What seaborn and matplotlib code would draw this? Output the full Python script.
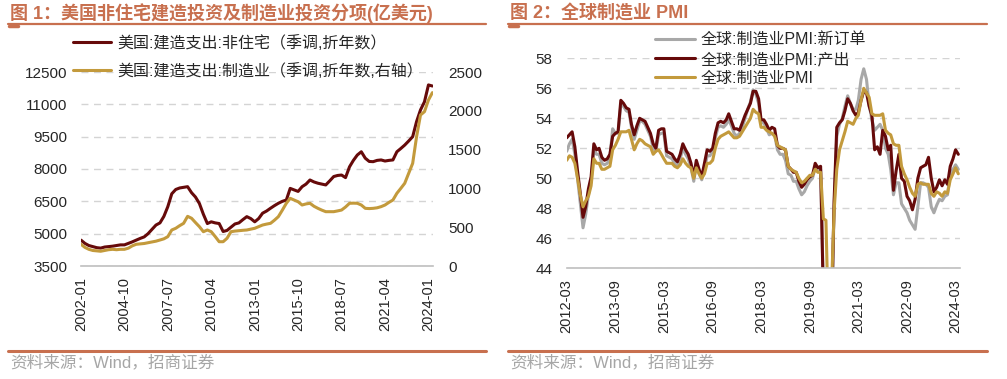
import numpy as np
import pandas as pd
import matplotlib
matplotlib.use('Agg')
import matplotlib.pyplot as plt
from matplotlib.lines import Line2D
import seaborn as sns

# 图1: 美国建造支出 (季度读数, 2002-01 ~ 2024-04)
us_dates = pd.date_range('2002-01-01', periods=90, freq='QS')
nonres = [4700, 4550, 4450, 4400,
          4350, 4330, 4380, 4400,
          4420, 4450, 4480, 4480,
          4550, 4620, 4700, 4780,
          4850, 5000, 5200, 5400,
          5500, 5800, 6250, 6850,
          7050, 7120, 7150, 7180,
          6900, 6700, 6400, 5900,
          5470, 5550, 5500, 5470,
          5100, 5150, 5300, 5450,
          5500, 5650, 5790, 5700,
          5550, 5700, 5950, 6050,
          6180, 6300, 6410, 6500,
          6560, 7100, 7030, 6960,
          7180, 7300, 7490, 7400,
          7340, 7300, 7260, 7450,
          7650, 7700, 7720, 7600,
          8100, 8400, 8650, 8800,
          8500, 8350, 8340, 8400,
          8420, 8370, 8400, 8420,
          8800, 8950, 9110, 9300,
          9500, 10200, 10740, 11120,
          11900, 11850]
manuf = [280, 240, 215, 200,
         195, 190, 200, 210,
         215, 210, 215, 215,
         230, 260, 280, 285,
         290, 300, 310, 320,
         335, 350, 378, 464,
         486, 520, 550, 640,
         615, 560, 507, 442,
         464, 442, 380, 313,
         313, 357, 442, 450,
         455, 460, 464, 475,
         486, 507, 528, 540,
         550, 590, 636, 720,
         808, 872, 850, 828,
         786, 800, 808, 770,
         743, 720, 700, 700,
         700, 710, 721, 760,
         808, 810, 808, 786,
         743, 740, 743, 750,
         765, 786, 820, 850,
         937, 1000, 1066, 1195,
         1323, 1666, 1946, 1989,
         2139, 2234]

# 图2: 全球制造业PMI (月度, 2012-03 ~ 2024-04)
pmi_dates = pd.date_range('2012-03-01', periods=146, freq='MS')
pmi_new_orders = [51.8, 52.3, 52.6, 51.6, 50.0, 48.3, 46.7, 47.6, 48.9, 49.8,
                  51.9, 51.6, 51.6, 51.0, 50.9, 51.0, 51.4, 53.3, 53.0, 53.0,
                  54.9, 54.8, 54.5, 54.4, 53.4, 52.6, 53.2, 53.8, 53.8, 53.6,
                  53.2, 52.8, 52.0, 51.8, 52.9, 53.0, 53.0, 51.5, 51.4, 51.3,
                  51.0, 50.8, 51.3, 52.0, 51.6, 51.3, 50.7, 49.8, 50.9, 50.3,
                  49.9, 50.6, 51.5, 51.5, 51.8, 52.7, 53.4, 53.5, 53.4, 53.6,
                  53.9, 53.5, 53.0, 52.8, 53.0, 53.4, 54.0, 54.6, 55.1, 55.9,
                  55.6, 55.0, 53.7, 53.7, 53.3, 52.9, 53.0, 52.9, 51.9, 51.6,
                  51.6, 51.2, 50.3, 50.2, 49.8, 49.8, 49.3, 48.9, 49.1, 49.5,
                  49.8, 50.0, 50.7, 50.5, 50.6, 42.5, 43.5, 33.5, 39.5, 48.0,
                  52.8, 53.6, 54.0, 54.8, 55.5, 55.0, 54.6, 54.6, 55.2, 56.6,
                  57.3, 56.6, 54.9, 53.9, 53.2, 53.4, 53.6, 53.2, 52.0, 51.6,
                  50.6, 48.9, 49.7, 49.7, 48.3, 48.0, 47.7, 47.2, 46.9, 46.6,
                  48.1, 49.7, 49.7, 49.6, 49.4, 48.1, 47.7, 48.2, 48.6, 48.5,
                  48.8, 48.9, 50.3, 50.6, 50.9, 50.6]
pmi_output = [52.7, 52.9, 53.1, 52.1, 50.5, 49.0, 47.4, 48.1, 49.3, 50.1,
              52.3, 51.9, 52.0, 51.4, 51.2, 51.3, 51.6, 52.8, 53.0, 53.1,
              55.2, 55.0, 54.7, 54.6, 53.6, 52.9, 53.5, 54.0, 53.9, 53.8,
              53.4, 53.0, 52.3, 52.0, 53.2, 53.3, 53.3, 51.8, 51.7, 51.6,
              51.3, 51.1, 51.6, 52.3, 51.9, 51.6, 51.0, 50.1, 51.2, 50.6,
              50.1, 51.0, 51.9, 51.8, 52.0, 53.0, 53.7, 53.8, 53.7, 53.9,
              54.3, 53.8, 53.3, 53.3, 53.2, 53.7, 54.2, 54.6, 55.0, 55.8,
              55.8, 55.3, 53.9, 53.9, 53.6, 53.2, 53.4, 53.3, 52.2, 52.0,
              52.0, 51.9, 50.8, 50.6, 50.4, 50.4, 49.8, 49.4, 49.6, 49.9,
              50.1, 50.2, 51.0, 50.7, 50.8, 42.0, 43.0, 34.0, 40.0, 48.5,
              53.4, 53.7, 53.9, 54.5, 55.3, 55.0, 54.5, 54.2, 54.4, 55.2,
              55.8, 55.7, 54.8, 54.2, 51.9, 52.1, 51.6, 53.2, 52.8, 51.9,
              52.2, 49.2, 50.5, 51.6, 50.0, 49.8, 48.8, 48.5, 47.9, 48.6,
              50.0, 50.7, 50.8, 50.9, 51.4, 50.0, 49.1, 49.4, 49.9, 49.5,
              49.9, 49.6, 50.8, 51.3, 51.9, 51.6]
pmi_total = [51.2, 51.5, 51.4, 51.0, 50.0, 48.9, 48.1, 48.5, 48.8, 49.5,
             51.3, 51.0, 51.0, 50.6, 50.6, 50.7, 50.8, 51.9, 52.2, 52.6,
             53.1, 53.1, 53.1, 53.2, 52.6, 51.9, 52.3, 52.6, 52.5, 52.3,
             52.2, 52.1, 51.6, 51.8, 51.9, 51.6, 51.3, 51.0, 51.0, 51.0,
             50.8, 50.7, 50.9, 51.3, 51.0, 50.8, 50.7, 50.0, 50.7, 50.3,
             50.0, 50.3, 51.0, 51.0, 51.2, 52.0, 52.6, 52.8, 52.9, 53.0,
             53.1, 52.9, 52.7, 52.7, 52.8, 53.1, 53.4, 53.7, 54.0, 54.6,
             54.4, 54.3, 53.4, 53.4, 53.2, 53.1, 53.0, 52.8, 52.2, 52.1,
             52.0, 51.9, 50.8, 50.6, 50.5, 50.4, 50.0, 49.7, 49.8, 50.0,
             50.2, 50.2, 50.6, 50.4, 50.4, 47.3, 47.2, 39.6, 42.4, 47.8,
             50.6, 51.9, 52.5, 53.1, 53.8, 53.7, 53.6, 54.0, 54.2, 55.2,
             56.0, 55.7, 55.4, 54.3, 54.2, 54.2, 54.2, 54.3, 53.2, 53.0,
             52.9, 52.3, 52.2, 52.2, 50.8, 50.3, 49.9, 49.4, 49.0, 48.8,
             49.6, 49.7, 49.6, 49.6, 49.6, 49.0, 48.8, 49.1, 49.0, 48.8,
             49.1, 49.0, 49.9, 50.3, 50.7, 50.3]

sns.set_style('white')
plt.rcParams['font.family'] = ['Liberation Sans', 'Noto Sans CJK SC']
plt.rcParams['axes.unicode_minus'] = False

DARK = '#660a0a'
GOLD = '#c39a3c'
GREY = '#a8a8a8'
ACCENT = '#c8704f'
GRID = '#d4d4d4'
W, H = 1007, 379

fig = plt.figure(figsize=(W / 100, H / 100), dpi=100)


def fx(px):
    return px / W


def fy(py):
    return 1 - py / H


def style_axis(ax):
    for s in ['top', 'left', 'right']:
        ax.spines[s].set_visible(False)
    ax.spines['bottom'].set_color('#bfbfbf')
    ax.spines['bottom'].set_linewidth(1.2)
    ax.yaxis.grid(True, linestyle=(0, (5, 4)), color=GRID, linewidth=1)
    ax.xaxis.grid(False)
    ax.tick_params(axis='y', length=0, pad=10, labelsize=11)
    ax.tick_params(axis='x', length=4, width=1, color='#bfbfbf',
                   pad=4, labelsize=10.5, rotation=90, direction='out')
    ax.set_xlabel('')
    ax.set_ylabel('')


# ---------- 图1 ----------
ax1 = fig.add_axes([fx(81), fy(266), fx(352), 194 / H])
ax1r = ax1.twinx()
df1 = pd.DataFrame({'date': us_dates, 'nonres': nonres, 'manuf': manuf})
sns.lineplot(data=df1, x='date', y='nonres', ax=ax1, color=DARK, lw=2.2)
sns.lineplot(data=df1, x='date', y='manuf', ax=ax1r, color=GOLD, lw=2.2)
h1 = [ax1.get_lines()[-1], ax1r.get_lines()[-1]]

ax1.set_ylim(3500, 12500)
ax1.set_yticks(np.arange(3500, 12501, 1500))
ax1r.set_ylim(0, 2500)
ax1r.set_yticks(np.arange(0, 2501, 500))
ax1.set_xlim(pd.Timestamp('2002-01-01'), pd.Timestamp('2024-04-15'))
t1 = pd.date_range('2002-01-01', '2024-01-01', freq='33MS')
ax1.set_xticks(t1)
ax1.set_xticklabels([d.strftime('%Y-%m') for d in t1])
style_axis(ax1)
for s in ax1r.spines.values():
    s.set_visible(False)
ax1r.grid(False)
ax1r.tick_params(axis='y', length=0, pad=11, labelsize=11)
ax1r.set_ylabel('')

fig.legend(h1, ['美国:建造支出:非住宅（季调,折年数）',
                '美国:建造支出:制造业（季调,折年数,右轴）'],
           loc='upper left', bbox_to_anchor=(fx(73), fy(35)),
           frameon=False, fontsize=11.5, handlelength=2.4, handletextpad=0.4,
           borderpad=0, borderaxespad=0, labelspacing=0.75)

# ---------- 图2 ----------
ax2 = fig.add_axes([fx(566.7), fy(268.3), fx(393.3), 210 / H])
df2 = pd.DataFrame({'date': pmi_dates, 'new': pmi_new_orders,
                    'out': pmi_output, 'pmi': pmi_total})
sns.lineplot(data=df2, x='date', y='new', ax=ax2, color=GREY, lw=2.2)
sns.lineplot(data=df2, x='date', y='out', ax=ax2, color=DARK, lw=2.2)
sns.lineplot(data=df2, x='date', y='pmi', ax=ax2, color=GOLD, lw=2.2)
h2 = ax2.get_lines()[-3:]
ax2.set_ylim(44, 58)
ax2.set_yticks(np.arange(44, 58.1, 2))
ax2.set_xlim(pd.Timestamp('2012-03-01'), pd.Timestamp('2024-04-20'))
t2 = pd.date_range('2012-03-01', '2024-03-01', freq='18MS')
ax2.set_xticks(t2)
ax2.set_xticklabels([d.strftime('%Y-%m') for d in t2])
style_axis(ax2)

fig.legend(h2, ['全球:制造业PMI:新订单', '全球:制造业PMI:产出', '全球:制造业PMI'],
           loc='upper left', bbox_to_anchor=(fx(655), fy(33)),
           frameon=False, fontsize=11.5, handlelength=2.5, handletextpad=0.35,
           borderpad=0, borderaxespad=0, labelspacing=0.25)

# ---------- 标题、分隔线、来源 ----------
for x0, x1, title in [(8, 486, '图 1：美国非住宅建造投资及制造业投资分项(亿美元)'),
                      (508, 987, '图 2：全球制造业 PMI')]:
    fig.text(fx(x0 + 2), fy(13), title, color=ACCENT, fontsize=13,
             fontweight='bold', va='center', ha='left')
    fig.add_artist(Line2D([fx(x0), fx(x1)], [fy(24.3), fy(24.3)],
                          color=ACCENT, lw=1.6, transform=fig.transFigure))
    fig.add_artist(Line2D([fx(x0 + 1), fx(x0 + 10)], [fy(25.5), fy(25.5)],
                          color=ACCENT, lw=2.5, transform=fig.transFigure))
    fig.add_artist(Line2D([fx(x0), fx(x1)], [fy(351), fy(351)],
                          color=ACCENT, lw=2.2, transform=fig.transFigure))
    fig.text(fx(x0 + 2), fy(362), '资料来源：Wind，招商证券', color='#a6a6a6',
             fontsize=12, va='center', ha='left')

fig.savefig('out.png', dpi=100)
